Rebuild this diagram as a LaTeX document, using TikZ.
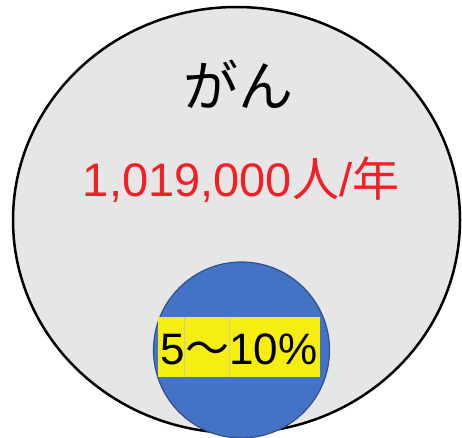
\documentclass[tikz,border=0pt]{standalone}
\usepackage{fontspec}
\setmainfont{Liberation Sans}
\newfontfamily\jp{Noto Sans CJK JP}
\definecolor{bigfill}{RGB}{231,230,230}
\definecolor{blue1}{RGB}{68,114,196}
\definecolor{blue2}{RGB}{47,82,143}
\definecolor{yel}{RGB}{245,238,16}
\definecolor{redtxt}{RGB}{240,32,36}
\definecolor{cellline}{RGB}{200,210,150}
\tikzset{
  bigcirc/.style={draw=black,fill=bigfill,line width=2.5pt},
  smallcirc/.style={draw=blue2,fill=blue1,line width=1.2pt},
  ybox/.style={fill=yel,draw=none},
  lbl/.style={inner sep=0pt,anchor=center}
}
\begin{document}
\begin{tikzpicture}[x=1pt,y=-1pt]
\useasboundingbox (0,0) rectangle (462,437);
\fill[white] (0,0) rectangle (462,437);
\path[bigcirc] (236.5,220) ellipse [x radius=223.5, y radius=213];
\node[smallcirc,circle,minimum size=176pt,inner sep=0pt] (small) at (241.5,350) {};
\node[ybox,minimum width=162pt,minimum height=60pt,inner sep=0pt] (box) at (239,347) {};
\draw[cellline,line width=0.4pt] (184,317) -- (184,377);
\draw[cellline,line width=0.4pt] (229,317) -- (229,377);
\node[lbl,font=\fontsize{44}{50}\selectfont] (pct) at (239,349) {5{\jp ～}10\%};
\node[lbl,font=\jp\fontsize{55}{62}\selectfont] (gan) at (238,84) {がん};
\node[lbl,font=\fontsize{47}{54}\selectfont,text=redtxt] (num) at (241,180) {1,019,000{\jp 人}/{\jp 年}};
\end{tikzpicture}
\end{document}
